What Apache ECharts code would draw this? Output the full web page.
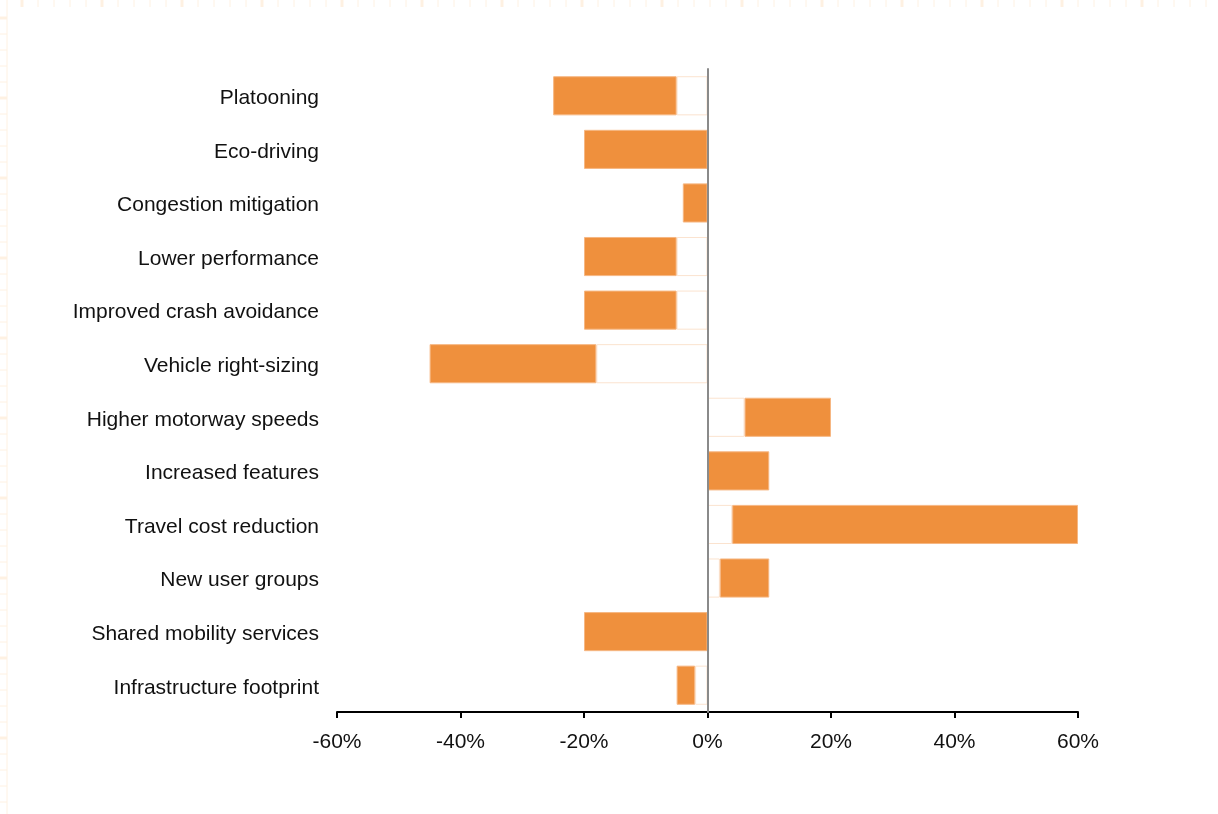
<!DOCTYPE html>
<html>
<head>
<meta charset="utf-8">
<script src="https://cdn.jsdelivr.net/npm/echarts@6/dist/echarts.min.js"></script>
<style>
html,body{margin:0;padding:0;background:#fff;}
#chart{width:1218px;height:814px;}
</style>
</head>
<body>
<div id="chart"></div>
<script>
// Categories, top to bottom
var categories = [
  "Platooning",
  "Eco-driving",
  "Congestion mitigation",
  "Lower performance",
  "Improved crash avoidance",
  "Vehicle right-sizing",
  "Higher motorway speeds",
  "Increased features",
  "Travel cost reduction",
  "New user groups",
  "Shared mobility services",
  "Infrastructure footprint"
];
// Range of each effect (%): near end (closest to zero) and far end
var rangeNear = [-5, 0, 0, -5, -5, -18, 6, 0, 4, 2, 0, -2];
var rangeFar  = [-25, -20, -4, -20, -20, -45, 20, 10, 60, 10, -20, -5];
var xTicks = [-60, -40, -20, 0, 20, 40, 60];

var baseVals = rangeNear.slice();
var spanVals = rangeFar.map(function (v, i) { return v - rangeNear[i]; });

var chart = echarts.init(document.getElementById('chart'), null, {renderer: 'canvas'});

var deco = [];
var rulerColor = '#fef1e2';
deco.push({type: 'line', shape: {x1: 7, y1: 0, x2: 7, y2: 814}, style: {stroke: rulerColor, lineWidth: 1}, silent: true});
for (var k = 0; 22 + k * 16 < 1218; k++) {
  var big = (k % 5 === 0);
  deco.push({type: 'line', shape: {x1: 22 + k * 16, y1: 0, x2: 22 + k * 16, y2: 7}, style: {stroke: rulerColor, lineWidth: big ? 3 : 1}, silent: true});
}
for (var m = 0; 18 + m * 16 < 814; m++) {
  var big2 = (m % 5 === 0);
  deco.push({type: 'line', shape: {x1: 0, y1: 18 + m * 16, x2: 7, y2: 18 + m * 16}, style: {stroke: rulerColor, lineWidth: big2 ? 3 : 1}, silent: true});
}

var fontFam = 'Liberation Sans, Arial, Helvetica, sans-serif';

chart.setOption({
  backgroundColor: '#ffffff',
  animation: false,
  graphic: deco,
  grid: {left: 337, right: 140, top: 69, bottom: 102, containLabel: false},
  xAxis: {
    type: 'value',
    min: -60, max: 60, interval: 20,
    axisLine: {show: true, onZero: false, lineStyle: {color: '#000', width: 2}},
    axisTick: {show: true, length: 6, lineStyle: {color: '#000', width: 2}},
    axisLabel: {
      color: '#111', fontSize: 21, fontFamily: fontFam, margin: 20,
      formatter: function (v) { return v + '%'; }
    },
    splitLine: {show: false}
  },
  yAxis: {
    type: 'category',
    data: categories,
    inverse: true,
    z: 10,
    axisLine: {show: true, onZero: true, lineStyle: {color: '#8a8a8a', width: 2}},
    axisTick: {show: false},
    axisLabel: {
      color: '#111', fontSize: 21, fontFamily: fontFam,
      margin: 18,
      formatter: function (v) { return '{a|' + v + '}'; },
      rich: {a: {color: '#111', fontSize: 21, fontFamily: fontFam, padding: [5, 0, 0, 0]}}
    },
    splitLine: {show: false}
  },
  series: [
    {
      type: 'bar', stack: 'r', data: baseVals, barWidth: '73%',
      itemStyle: {color: '#ffffff', borderColor: '#fbe3cf', borderWidth: 1},
      z: 1
    },
    {
      type: 'bar', stack: 'r', data: spanVals, barWidth: '73%',
      itemStyle: {color: '#ef903d', borderColor: '#f6b783', borderWidth: 1},
      z: 2
    }
  ]
});
</script>
</body>
</html>
